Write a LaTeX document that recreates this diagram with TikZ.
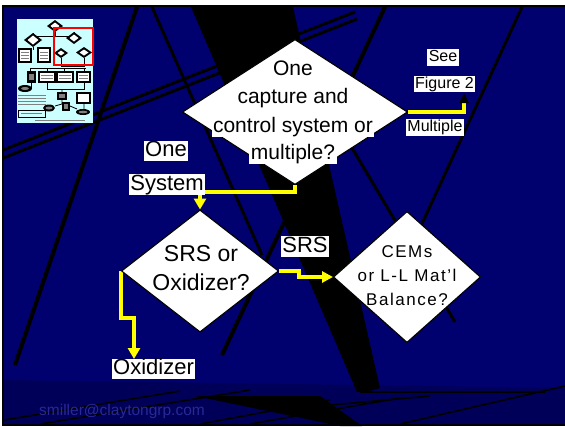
\documentclass[tikz,border=0pt]{standalone}
\usepackage{fontspec}
\setmainfont{Liberation Sans}
\usetikzlibrary{shapes.geometric,arrows.meta}
\definecolor{navyc}{RGB}{0,0,110}
\definecolor{floorc}{RGB}{0,0,88}
\definecolor{yellowc}{RGB}{255,255,0}
\definecolor{thumbc}{RGB}{204,255,255}
\definecolor{mailc}{RGB}{40,40,150}
\tikzset{
  dia/.style={diamond, draw=black, line width=1pt, fill=white, inner sep=0pt},
  wlbl/.style={fill=white, inner xsep=1.5pt, inner ysep=0pt, text=black},
  conn/.style={draw=yellowc, line width=3.5pt, line join=miter},
  streak/.style={draw=black, line width=3pt},
  thin/.style={draw=black, line width=1.6pt},
  mini/.style={draw=black, line width=1.1pt, fill=white},
}
\begin{document}
\begin{tikzpicture}[x=1pt,y=-1pt]
\useasboundingbox (0,0) rectangle (565,426);
% background
\fill[white] (0,0) rectangle (565,426);
\fill[black] (2,5) rectangle (565,426);
\fill[navyc] (4,7) rectangle (565,424);
\fill[floorc] (4,380) -- (565,388) -- (565,424) -- (4,424) -- cycle;
% streaks
\fill[black] (191,7) -- (293,7) -- (380,388) -- (366,392) -- (357,392) -- cycle;
\draw[streak, line width=4pt] (137,7) -- (15,365);
\draw[streak] (152,7) -- (262,255);
\draw[streak] (3,150) -- (355,12);
\draw[streak] (3,158) -- (357,19);
\draw[streak, line width=4pt] (385,7) -- (222,355);
\draw[streak] (522,7) -- (420,228);
\draw[streak] (300,60) -- (455,322);
\fill[black] (195,396) -- (320,396) -- (362,426) -- (340,426) -- cycle;
\draw[thin] (4,420) -- (180,391);
\draw[thin] (40,424) -- (250,390);
\draw[thin] (200,424) -- (330,400);
\draw[thin] (320,406) -- (430,396);
\draw[thin] (360,392) -- (545,392);
\draw[thin] (400,424) -- (565,386);
\draw[thin] (250,424) -- (400,398);
% thumbnail
\fill[thumbc] (17,19) rectangle (93,123);
\draw[line width=0.8pt] (55,32) -- (55,36) -| (33,33);
\draw[line width=0.8pt] (55,32) -- (55,36) -| (74,32);
\draw[line width=0.8pt] (33,47) -- (33,50);
\draw[line width=0.8pt] (61,58) -- (61,66) -- (84,66) -- (84,58);
\draw[line width=0.8pt] (30,68) -- (86,68);
\draw[line width=0.8pt] (30,68) -- (30,71) (47,68) -- (47,71) (64,68) -- (64,71) (84,68) -- (84,71);
\draw[line width=0.8pt] (31,83) -- (31,88) (47,83) -- (47,89) -- (84,89) -- (84,83);
\draw[line width=0.8pt] (62,89) -- (62,92) (62,100) -- (62,104) -- (55,106) (70,106) -- (77,109) (84,103) -- (84,109);
\fill[black] (55,20) -- (63,26) -- (55,32) -- (47,26) -- cycle;
\fill[white] (55,22.5) -- (59.5,26) -- (55,29.5) -- (50.5,26) -- cycle;
\fill[black] (33,33) -- (42,40) -- (33,47) -- (24,40) -- cycle;
\fill[white] (33,35.5) -- (38.5,40) -- (33,44.5) -- (27.5,40) -- cycle;
\fill[black] (74,32) -- (82,38) -- (74,44) -- (66,38) -- cycle;
\fill[white] (74,34.5) -- (78.5,38) -- (74,41.5) -- (69.5,38) -- cycle;
\fill[black] (61,48) -- (68,53) -- (61,58) -- (54,53) -- cycle;
\fill[white] (61,50.5) -- (64.5,53) -- (61,55.5) -- (57.5,53) -- cycle;
\fill[black] (84,47) -- (92,52.5) -- (84,58) -- (76,52.5) -- cycle;
\fill[white] (84,49.5) -- (88.5,52.5) -- (84,55.5) -- (79.5,52.5) -- cycle;
\draw[mini, line width=1.5pt] (19,49) rectangle (31,62);
\draw[mini, line width=1.5pt] (38,48) rectangle (50,62);
\foreach \yy in {52,55,58} {\draw[gray, line width=0.6pt] (21,\yy) -- (29,\yy); \draw[gray, line width=0.6pt] (40,\yy) -- (48,\yy);}
\fill[black] (27,71) rectangle (36,83);
\fill[gray] (29,74) rectangle (34,80);
\draw[mini, line width=1.5pt] (39,72) rectangle (55,82);
\draw[mini, line width=1.5pt] (57,72) rectangle (73,82);
\draw[mini, line width=1.5pt] (77,72) rectangle (90,82);
\foreach \yy in {75,78} {\draw[gray, line width=0.6pt] (41,\yy) -- (53,\yy); \draw[gray, line width=0.6pt] (59,\yy) -- (71,\yy); \draw[gray, line width=0.6pt] (79,\yy) -- (88,\yy);}
\fill[black] (25,88.5) ellipse [x radius=7, y radius=3.5];
\fill[gray] (25,88.5) ellipse [x radius=4, y radius=1.5];
\fill[black] (57,92) rectangle (67,100);
\fill[gray] (59,94) rectangle (65,98);
\draw[mini, line width=1.5pt] (77,93) rectangle (90,103);
\fill[black] (49,108) ellipse [x radius=6, y radius=3.5];
\fill[gray] (49,108) ellipse [x radius=3.5, y radius=1.5];
\fill[black] (62,102) rectangle (70,111);
\fill[gray] (64,104) rectangle (68,109);
\fill[black] (83,112) ellipse [x radius=7, y radius=3];
\fill[gray] (83,112) ellipse [x radius=4.5, y radius=1.3];
\foreach \yy in {95,98,101,104} {\draw[gray, line width=0.7pt] (18,\yy) -- (46,\yy);}
\draw[black, line width=1pt] (18,110) rectangle (45,117);
\draw[gray, line width=0.6pt] (21,113.5) -- (42,113.5);
\draw[gray, line width=0.6pt] (35,120) -- (85,120);
\draw[red, line width=1.4pt] (54,28) rectangle (93,65);
% connectors
\coordinate (figtip) at (464,93);
\coordinate (oxtip) at (134,359);
\node[dia, minimum width=225pt, minimum height=145pt] (d1) at (295,112) {};
\node[dia, minimum width=157pt, minimum height=122pt] (d2) at (200,271) {};
\node[dia, minimum width=147pt, minimum height=131pt] (d3) at (407,277) {};
\draw[conn, -{Triangle[length=10pt,width=9pt,color=black]}] (d1.east) -| (figtip);
\draw[conn, -{Triangle[length=11pt,width=12pt]}] (d1.south) -- ++(0,7) -| (d2.north);
\draw[conn, -{Triangle[length=11pt,width=11pt]}] (d2.east) -- ++(20,0) |- (d3.west);
\draw[conn, -{Triangle[length=11pt,width=12pt]}] (d2.west) -- ++(0,47) -| (oxtip);
% redraw diamonds over connector starts
\node[dia, minimum width=225pt, minimum height=145pt] (d1b) at (d1) {};
\node[dia, minimum width=157pt, minimum height=122pt] (d2b) at (d2) {};
\node[dia, minimum width=147pt, minimum height=131pt] (d3b) at (d3) {};
% diamond texts
\tikzset{t1/.style={wlbl, font=\fontsize{21}{27}\selectfont, text height=15.5pt, text depth=4.5pt}}
\node[t1] (q1a) at (293,70) {One};
\node[t1] (q1b) at (293,98) {capture and};
\node[t1] (q1c) at (293,127) {control system or};
\node[t1] (q1d) at (293,154) {multiple?};
\node[align=center, font=\fontsize{23}{29}\selectfont] (q2) at (201,268) {SRS or\\Oxidizer?};
\node[align=center, font=\fontsize{17}{24}\selectfont\addfontfeature{LetterSpace=9}] (q3) at (407,276) {CEMs\\or L-L Mat'l\\Balance?};
% labels
\tikzset{lb/.style={wlbl, font=\fontsize{22}{26}\selectfont, text height=16pt, text depth=4.5pt},
         ls/.style={wlbl, font=\fontsize{16}{19}\selectfont, text height=12.5pt, text depth=4pt}}
\node[ls] (see) at (443,57.5) {See};
\node[ls] (fig) at (444.5,84) {Figure 2};
\node[ls] (mult) at (435,127.5) {Multiple};
\node[lb] (one) at (166,151) {One};
\node[lb] (sys) at (167,184.5) {System};
\node[lb] (srs) at (305,246.5) {SRS};
\node[lb] (oxl) at (153.5,369) {Oxidizer};
\node[text=mailc, font=\fontsize{15.5}{18}\selectfont] (mail) at (122,411) {smiller@claytongrp.com};
\end{tikzpicture}
\end{document}
